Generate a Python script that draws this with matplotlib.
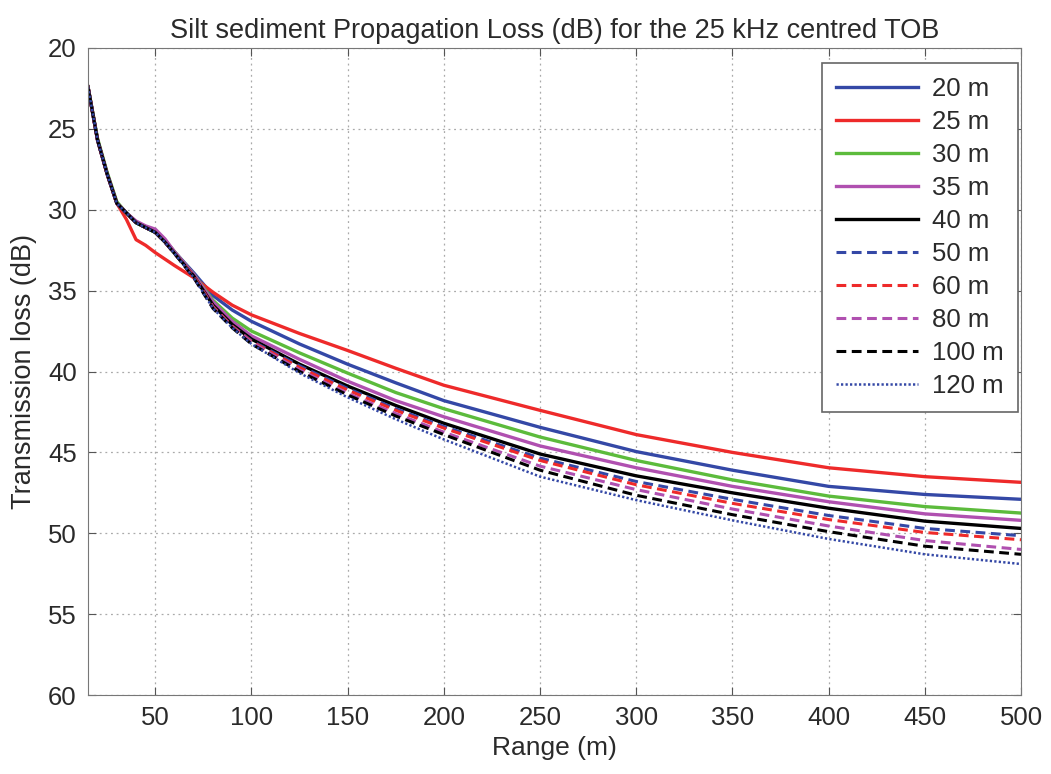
#Transmission loss vs range for the silt sediment, 25 kHz TOB.
import numpy as np
import matplotlib
matplotlib.use("Agg")
import matplotlib.pyplot as plt

rng_m = [15, 20, 25, 30, 35, 40, 45, 50, 55, 60, 70, 80, 90, 100,
         125, 150, 175, 200, 250, 300, 350, 400, 450, 500]

tl_20 = [22.4, 25.7, 27.8, 29.6, 30.2, 30.8, 31.1, 31.4, 31.9, 32.6, 33.9, 35.3, 36.2, 36.9,
         38.3, 39.55, 40.7, 41.8, 43.45, 44.95, 46.1, 47.1, 47.6, 47.9]
tl_25 = [22.4, 25.7, 27.8, 29.6, 30.6, 31.85, 32.2, 32.65, 33.05, 33.45, 34.2, 35.1, 35.9, 36.5,
         37.65, 38.7, 39.8, 40.85, 42.4, 43.9, 45.0, 45.95, 46.5, 46.85]
tl_30 = [22.4, 25.6, 27.7, 29.5, 30.2, 30.8, 31.1, 31.4, 31.9, 32.6, 34.0, 35.6, 36.7, 37.5,
         38.85, 40.1, 41.3, 42.3, 44.05, 45.5, 46.7, 47.7, 48.35, 48.75]
tl_35 = [22.4, 25.7, 27.8, 29.6, 30.2, 30.7, 31.0, 31.2, 31.8, 32.6, 34.0, 35.7, 36.9, 37.8,
         39.25, 40.6, 41.8, 42.8, 44.6, 45.95, 47.1, 48.05, 48.8, 49.2]
tl_40 = [22.4, 25.7, 27.8, 29.6, 30.2, 30.8, 31.1, 31.4, 32.0, 32.7, 34.1, 35.9, 37.1, 38.0,
         39.55, 40.9, 42.1, 43.2, 45.1, 46.45, 47.5, 48.45, 49.25, 49.7]
tl_50 = [22.4, 25.7, 27.8, 29.6, 30.2, 30.8, 31.1, 31.4, 32.0, 32.7, 34.1, 36.0, 37.2, 38.1,
         39.65, 41.05, 42.3, 43.4, 45.35, 46.8, 47.9, 48.9, 49.7, 50.15]
tl_60 = [22.4, 25.7, 27.8, 29.6, 30.2, 30.8, 31.1, 31.4, 32.0, 32.7, 34.1, 36.0, 37.2, 38.15,
         39.75, 41.15, 42.4, 43.5, 45.5, 47.0, 48.15, 49.15, 49.95, 50.4]
tl_80 = [22.4, 25.7, 27.8, 29.6, 30.2, 30.8, 31.1, 31.4, 32.0, 32.7, 34.2, 36.05, 37.25, 38.2,
         39.9, 41.35, 42.6, 43.75, 45.85, 47.3, 48.5, 49.55, 50.45, 51.0]
tl_100 = [22.4, 25.7, 27.8, 29.6, 30.2, 30.8, 31.1, 31.4, 32.0, 32.7, 34.2, 36.1, 37.3, 38.3,
          40.0, 41.45, 42.75, 43.9, 46.1, 47.65, 48.85, 49.9, 50.8, 51.3]
tl_120 = [22.4, 25.7, 27.8, 29.6, 30.2, 30.8, 31.1, 31.4, 32.0, 32.7, 34.2, 36.1, 37.3, 38.3,
          40.1, 41.6, 42.95, 44.2, 46.5, 47.95, 49.2, 50.35, 51.3, 51.9]

labels = ["20 m", "25 m", "30 m", "35 m", "40 m", "50 m", "60 m", "80 m", "100 m", "120 m"]
series = [tl_20, tl_25, tl_30, tl_35, tl_40, tl_50, tl_60, tl_80, tl_100, tl_120]

blue = "#3448a6"
red = "#ee2a2a"
green = "#5cbb3c"
purple = "#b050b0"
black = "#000000"
colors = [blue, red, green, purple, black, blue, red, purple, black, blue]
styles = ["-", "-", "-", "-", "-", "--", "--", "--", "--", ":"]


def main():
    plt.rcParams['font.family'] = ['Liberation Sans', 'DejaVu Sans']
    txt = "#2a2a2a"
    fig = plt.figure(figsize=(10.51, 7.74), dpi=100)
    ax = fig.add_axes([0.0837, 0.102, 0.8878, 0.836])

    for y, lab, c, ls in zip(series, labels, colors, styles):
        if ls == "--":
            ax.plot(rng_m, y, color=c, lw=2.2, dashes=(3.2, 1.8), label=lab)
        elif ls == ":":
            ax.plot(rng_m, y, color=c, lw=1.8, dashes=(0.9, 0.9), label=lab)
        else:
            ax.plot(rng_m, y, color=c, lw=2.4, label=lab)

    ax.set_xlim(15, 500)
    ax.set_ylim(60, 20)
    ax.set_xticks(np.arange(50, 501, 50))
    ax.set_yticks(np.arange(20, 61, 5))
    ax.tick_params(direction="in", top=True, right=True, labelsize=18.5,
                   length=6, color="#555555", labelcolor=txt, pad=8)
    for s in ax.spines.values():
        s.set_color("#777777")
    ax.grid(True, linestyle=(0, (1.5, 3)), color="#aaaaaa", lw=0.9)

    ax.set_title("Silt sediment Propagation Loss (dB) for the 25 kHz centred TOB",
                 fontsize=19.5, pad=7, color=txt)
    ax.set_xlabel("Range (m)", fontsize=19, labelpad=4, color=txt)
    ax.set_ylabel("Transmission loss (dB)", fontsize=19.5, labelpad=8, color=txt)

    leg = ax.legend(loc="upper right", bbox_to_anchor=(0.9968, 0.977),
                    fontsize=18.5, handlelength=3.2, labelspacing=0.35,
                    borderaxespad=0, fancybox=False, framealpha=1,
                    borderpad=0.55, handletextpad=0.55, labelcolor=txt)
    leg.get_frame().set_edgecolor("#666666")
    leg.get_frame().set_linewidth(1.2)

    fig.savefig("out.png", dpi=100)


if __name__ == "__main__":
    main()
